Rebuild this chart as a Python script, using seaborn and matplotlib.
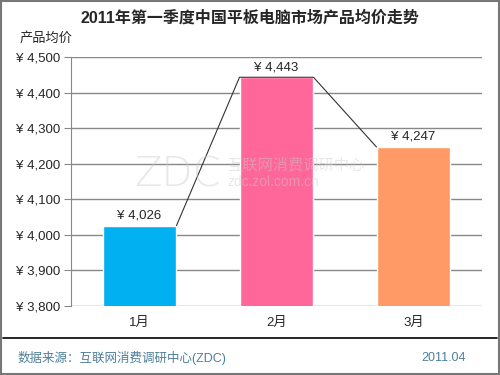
import matplotlib
matplotlib.use("Agg")
import matplotlib.pyplot as plt
import seaborn as sns
import pandas as pd
from matplotlib.patches import Rectangle

# 数据
months = ["1月", "2月", "3月"]
prices = [4026, 4443, 4247]
colors = ["#00B0F0", "#FF6699", "#FF9966"]
yticks = [3800, 3900, 4000, 4100, 4200, 4300, 4400, 4500]

sns.set_style("white")
plt.rcParams["font.family"] = ["Liberation Sans", "Noto Sans CJK SC", "DejaVu Sans"]

df = pd.DataFrame({"月份": months, "均价": prices})

fig = plt.figure(figsize=(5, 3.75), dpi=100)
ax = fig.add_axes([0.142, 0.184, 0.822, 0.664])

bar_w = 0.54
sns.barplot(data=df, x="月份", y="均价", hue="月份", palette=colors,
            width=bar_w, legend=False, ax=ax, saturation=1)

# 柱子之间的连线 (右上角 -> 下一个左上角)
lx, ly = [], []
for i, v in enumerate(prices):
    lx += [i - bar_w / 2, i + bar_w / 2]
    ly += [v, v]
ax.plot(lx[1:-1], ly[1:-1], color="#333333", lw=0.8, zorder=3)

for i, v in enumerate(prices):
    ax.text(i, v + 12, "¥ {:,}".format(v), ha="center", va="bottom", fontsize=9.5)

ax.set_ylim(3800, 4500)
ax.set_xlim(-0.5, 2.5)
ax.set_yticks(yticks)
ax.set_yticklabels(["¥ {:,}".format(t) for t in yticks], fontsize=9.5)
ax.tick_params(axis="y", length=5, color="#888888", direction="out", pad=3, left=True)
ax.tick_params(axis="x", length=0, labelsize=9.5, pad=8)
ax.grid(axis="y", color="#888888", lw=1)
ax.set_axisbelow(True)
ax.set_xlabel("")
ax.set_ylabel("")
for s in ["top", "right", "bottom"]:
    ax.spines[s].set_visible(False)
ax.spines["left"].set_color("#888888")

# 水印
wm = dict(transform=ax.transAxes, color="#cccccc", alpha=0.45, zorder=4,
          va="center")
ax.text(0.155, 0.525, "ZDC", fontsize=29, ha="left", family="DejaVu Sans",
        fontweight="light", **wm)
ax.text(0.38, 0.565, "互联网消费调研中心", fontsize=11, ha="left", **wm)
ax.text(0.38, 0.497, "zdc.zol.com.cn", fontsize=10, ha="left", **wm)

fig.text(0.5, 0.952, "2011年第一季度中国平板电脑市场产品均价走势", ha="center",
         va="center", fontsize=11.5, fontweight="bold")
fig.text(0.04, 0.897, "产品均价", ha="left", va="center", fontsize=9.5)
fig.text(0.035, 0.045, "数据来源：互联网消费调研中心(ZDC)", ha="left", va="center",
         fontsize=9, color="#4E7F99")
fig.text(0.932, 0.045, "2011.04", ha="right", va="center", fontsize=9, color="#4E7F99")

# 底部分隔线与外框
fig.add_artist(plt.Line2D([0.006, 0.994], [0.099, 0.099], color="black", lw=1.2,
                          transform=fig.transFigure))
fig.add_artist(Rectangle((0.002, 0.003), 0.995, 0.994, transform=fig.transFigure,
                         fill=False, edgecolor="#777777", lw=1.5))

fig.savefig("out.png", dpi=100)
